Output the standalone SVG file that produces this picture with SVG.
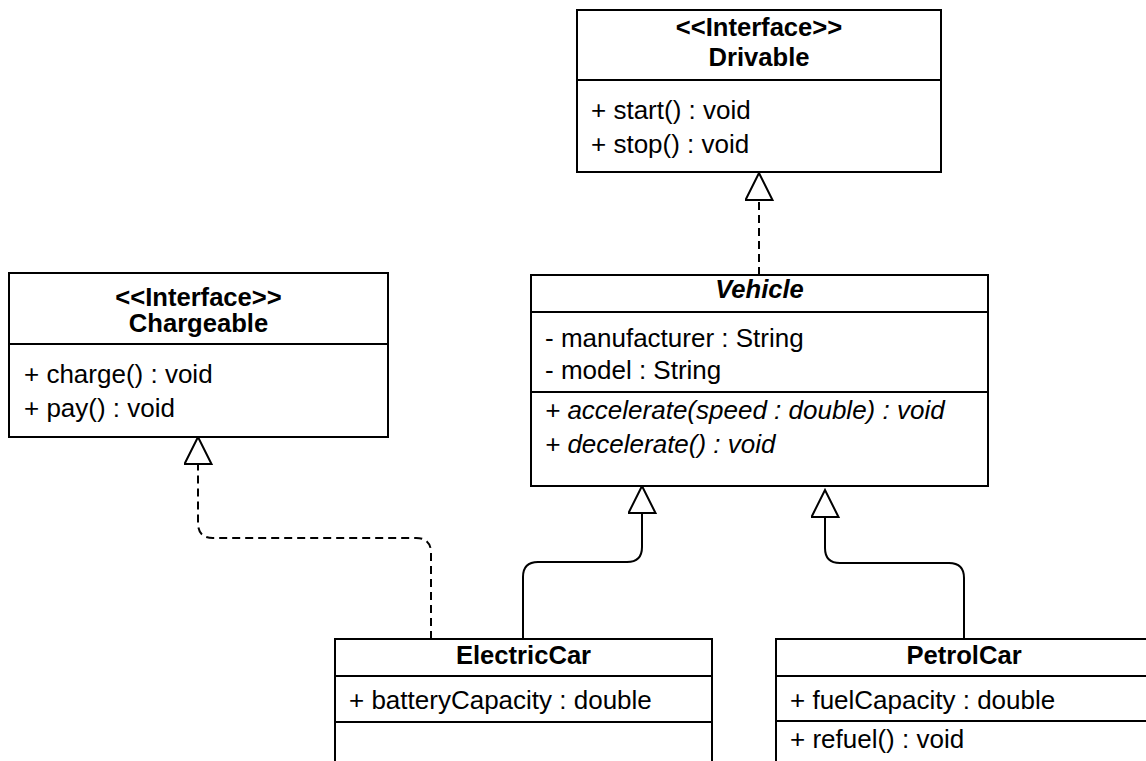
<svg xmlns="http://www.w3.org/2000/svg" width="1146" height="761" viewBox="0 0 1146 761">
<style>
.box{fill:#fff;stroke:#000;stroke-width:2}
.div{stroke:#000;stroke-width:2;fill:none}
.t{font-family:"Liberation Sans",Arial,sans-serif;font-size:26px;fill:#000}
.b{font-weight:bold;text-anchor:middle;font-size:25.6px}
.i{font-style:italic}
.con{fill:none;stroke:#000;stroke-width:2}
.dash{stroke-dasharray:8 5}
</style>
<defs>
<marker id="tri" markerUnits="userSpaceOnUse" markerWidth="30" markerHeight="30" viewBox="-1 -1 30 30" refX="27" refY="13.5" orient="auto">
<path d="M0,0 L27,13.5 L0,27 Z" fill="#fff" stroke="#000" stroke-width="2"/>
</marker>
</defs>
<rect width="1146" height="761" fill="#fff"/>
<g id="connectors">
<path class="con dash" d="M759,275 L759,173" marker-end="url(#tri)"/>
<path class="con dash" d="M431,639 L431,553 Q431,538 416,538 L213,538 Q198,538 198,523 L198,437" marker-end="url(#tri)"/>
<path class="con" d="M523,639 L523,577 Q523,562 538,562 L627,562 Q642,562 642,547 L642,486" marker-end="url(#tri)"/>
<path class="con" d="M964,639 L964,578 Q964,563 949,563 L840,563 Q825,563 825,548 L825,490" marker-end="url(#tri)"/>
</g>
<g id="drivable">
<rect class="box" x="577" y="10" width="364" height="162"/>
<line class="div" x1="577" y1="80" x2="941" y2="80"/>
<text class="t b" x="759" y="36">&lt;&lt;Interface&gt;&gt;</text>
<text class="t b" x="759" y="66">Drivable</text>
<text class="t" x="591" y="119">+ start() : void</text>
<text class="t" x="591" y="153">+ stop() : void</text>
</g>
<g id="chargeable">
<rect class="box" x="9" y="273" width="379" height="164"/>
<line class="div" x1="9" y1="344" x2="388" y2="344"/>
<text class="t b" x="198.5" y="306">&lt;&lt;Interface&gt;&gt;</text>
<text class="t b" x="198.5" y="332">Chargeable</text>
<text class="t" x="24" y="383">+ charge() : void</text>
<text class="t" x="24" y="417">+ pay() : void</text>
</g>
<g id="vehicle">
<rect class="box" x="531" y="275" width="457" height="211"/>
<line class="div" x1="531" y1="312" x2="988" y2="312"/>
<line class="div" x1="531" y1="392" x2="988" y2="392"/>
<text class="t b i" x="759.5" y="298">Vehicle</text>
<text class="t" x="545" y="347">- manufacturer : String</text>
<text class="t" x="545" y="379">- model : String</text>
<text class="t i" x="545" y="419">+ accelerate(speed : double) : void</text>
<text class="t i" x="545" y="453">+ decelerate() : void</text>
</g>
<g id="electriccar">
<rect class="box" x="335" y="639" width="377" height="160"/>
<line class="div" x1="335" y1="676" x2="712" y2="676"/>
<line class="div" x1="335" y1="722" x2="712" y2="722"/>
<text class="t b" x="523.5" y="664">ElectricCar</text>
<text class="t" x="349" y="709">+ batteryCapacity : double</text>
</g>
<g id="petrolcar">
<rect class="box" x="776" y="639" width="376" height="160"/>
<line class="div" x1="776" y1="676" x2="1152" y2="676"/>
<line class="div" x1="776" y1="721" x2="1152" y2="721"/>
<text class="t b" x="964" y="664">PetrolCar</text>
<text class="t" x="790" y="709">+ fuelCapacity : double</text>
<text class="t" x="790" y="748">+ refuel() : void</text>
</g>
</svg>
